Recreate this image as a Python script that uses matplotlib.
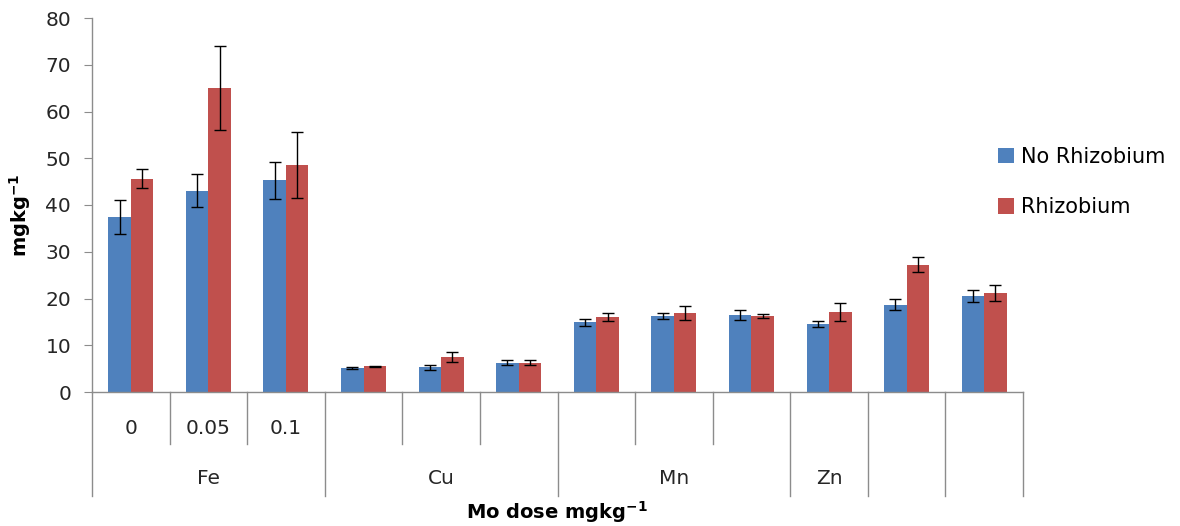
import matplotlib
matplotlib.use("Agg")
import matplotlib.pyplot as plt
import numpy as np

# ---- data ----
dose_labels = ["0", "0.05", "0.1", "", "", "", "", "", "", "", "", ""]
element_labels = ["Fe", "Cu", "Mn", "Zn", "", ""]
element_spans = [3, 3, 3, 1, 1, 1]
series_names = ["No Rhizobium", "Rhizobium"]
no_rhiz = [37.4, 43.1, 45.3, 5.1, 5.3, 6.3, 14.9, 16.3, 16.5, 14.6, 18.7, 20.6]
no_rhiz_err = [3.6, 3.5, 4.0, 0.2, 0.5, 0.45, 0.7, 0.7, 1.1, 0.65, 1.25, 1.3]
rhiz = [45.6, 65.1, 48.6, 5.5, 7.5, 6.3, 16.0, 16.8, 16.3, 17.1, 27.2, 21.2]
rhiz_err = [2.0, 9.0, 7.0, 0.15, 1.0, 0.45, 0.85, 1.5, 0.4, 1.9, 1.6, 1.75]
yticks = [0, 10, 20, 30, 40, 50, 60, 70, 80]

plt.rcParams['font.family'] = ['DejaVu Sans']
plt.rcParams['mathtext.fontset'] = 'dejavusans'

BLUE = "#4F81BD"
RED = "#C0504D"
GRAY = "#8C8C8C"

fig = plt.figure(figsize=(11.8, 5.26), dpi=100)
ax = fig.add_axes([92/1180, 1-392/526, (1023-92)/1180, (392-18)/526])

n = len(no_rhiz)
x = np.arange(n) + 0.5
w = 0.29
ekw = dict(elinewidth=1.0, capthick=1.0, ecolor="black")
ax.bar(x - w/2, no_rhiz, w, color=BLUE, yerr=no_rhiz_err, capsize=4.3,
       error_kw=ekw, label=series_names[0])
ax.bar(x + w/2, rhiz, w, color=RED, yerr=rhiz_err, capsize=4.3,
       error_kw=ekw, label=series_names[1])

ax.set_xlim(0, n)
ax.set_ylim(0, 80)
ax.set_yticks(yticks)
ax.tick_params(axis='y', labelsize=14.5, length=6, color=GRAY, pad=9,
               labelcolor="#262626")
ax.set_xticks([])
for s in ["top", "right"]:
    ax.spines[s].set_visible(False)
for s in ["left", "bottom"]:
    ax.spines[s].set_color(GRAY)
    ax.spines[s].set_linewidth(1.0)

trans = ax.get_xaxis_transform()
ah = 392 - 18
short = -52 / ah
long_ = -104 / ah
bounds = [0]
for sp in element_spans:
    bounds.append(bounds[-1] + sp)
for b in range(n + 1):
    y_end = long_ if b in bounds else short
    ax.plot([b, b], [0, y_end], transform=trans, color=GRAY, lw=1.0,
            clip_on=False)
for i, lab in enumerate(dose_labels):
    if lab:
        ax.text(x[i], -36 / ah, lab, transform=trans, ha="center",
                va="center", fontsize=14.5, color="#262626")
for i, lab in enumerate(element_labels):
    if lab:
        cx = (bounds[i] + bounds[i + 1]) / 2
        ax.text(cx, -87 / ah, lab, transform=trans, ha="center",
                va="center", fontsize=14.5, color="#262626")

ax.set_xlabel(r"Mo dose mgkg$^{\mathbf{-1}}$", fontsize=14, fontweight="bold")
ax.xaxis.set_label_coords(0.5, -120 / ah)
ax.xaxis.label.set_va("center")
ax.set_ylabel(r"mgkg$^{\mathbf{-1}}$", fontsize=14, fontweight="bold")
ax.yaxis.set_label_coords((20 - 92) / (1023 - 92), (392 - 215) / ah)
ax.yaxis.label.set_va("center")

fig.legend(loc="upper left", bbox_to_anchor=(998/1180, 1 - 147/526),
           frameon=False, fontsize=15, handlelength=0.75, handleheight=0.75,
           handletextpad=0.35, labelspacing=1.45, borderpad=0, borderaxespad=0)

fig.savefig("out.png", dpi=100)
